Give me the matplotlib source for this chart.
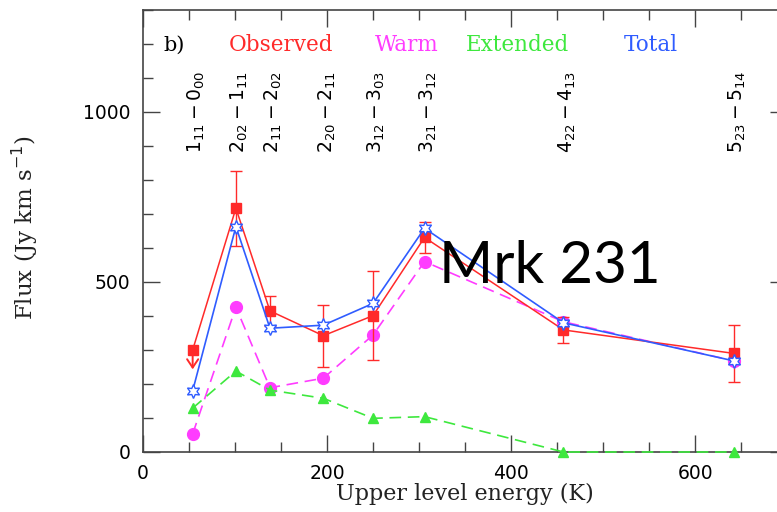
import matplotlib
matplotlib.use("Agg")
import matplotlib.pyplot as plt
from matplotlib.ticker import MultipleLocator

plt.rcParams["mathtext.fontset"] = "dejavusans"

# upper level energies (K) and H2O transitions
energy = [54, 101, 138, 196, 250, 306, 457, 642]
transitions = [r"$1_{11}-0_{00}$", r"$2_{02}-1_{11}$", r"$2_{11}-2_{02}$",
               r"$2_{20}-2_{11}$", r"$3_{12}-3_{03}$", r"$3_{21}-3_{12}$",
               r"$4_{22}-4_{13}$", r"$5_{23}-5_{14}$"]

# fluxes (Jy km/s)
observed = [300, 717, 415, 342, 401, 631, 359, 290]
observed_err = [0, 110, 44, 91, 130, 46, 38, 83]
warm = [53, 426, 189, 217, 344, 560, 383, 268]
extended = [129, 238, 182, 158, 99, 104, 0, 0]
total = [180, 663, 364, 373, 437, 658, 380, 268]

RED = "#ff2a2a"
MAGENTA = "#ff3cff"
GREEN = "#3ee83e"
BLUE = "#2f5cff"

fig = plt.figure(figsize=(7.77, 5.12), dpi=100)
ax = fig.add_axes([0.184, 0.1172, 0.829, 0.8633])
ax.set_xlim(0, 700)
ax.set_ylim(0, 1300)

ax.plot(energy, extended, ls="--", dashes=(7, 4), color=GREEN, lw=1.2,
        marker="^", ms=7, mfc=GREEN, mec=GREEN, zorder=5, clip_on=False)
ax.plot(energy, warm, ls="--", dashes=(7, 4), color=MAGENTA, lw=1.2,
        marker="o", ms=8.5, mfc=MAGENTA, mec=MAGENTA, zorder=2)

# observed: first line is an upper limit, the rest carry error bars
ax.plot(energy, observed, color=RED, lw=1.1, marker="s", ms=6.5,
        mfc=RED, mec=RED, zorder=3)
ax.errorbar(energy[1:], observed[1:], yerr=observed_err[1:], fmt="none",
            ecolor=RED, elinewidth=1.0, capsize=4.5, capthick=1.0, zorder=3)
ax.annotate("", xy=(energy[0], observed[0] - 65), xytext=(energy[0], observed[0]),
            arrowprops=dict(arrowstyle="->,head_length=0.6,head_width=0.4",
                            color=RED, lw=1.4), zorder=3)

# total: line with open six-pointed stars
ax.plot(energy, total, color=BLUE, lw=1.2, marker=(6, 1, 0), ms=10,
        mfc="white", mec=BLUE, mew=1.0, zorder=4)

# transition labels above each point
for e, t in zip(energy, transitions):
    ax.text(e + 4, 880, t, rotation=90, ha="center", va="bottom",
            fontsize=13.5, color="black")

# panel tag and legend text
ax.text(22, 1197, "b)", fontsize=15, family="DejaVu Serif", va="center")
for xpos, name, col in [(93, "Observed", RED), (252, "Warm", MAGENTA),
                        (351, "Extended", GREEN), (523, "Total", BLUE)]:
    ax.text(xpos, 1197, name, fontsize=15.5, family="DejaVu Serif",
            color=col, va="center")

ax.text(322, 497, "Mrk 231", fontsize=42, family="Lato", color="black",
        va="baseline", zorder=6)

# axes styling
ax.xaxis.set_major_locator(MultipleLocator(200))
ax.xaxis.set_minor_locator(MultipleLocator(50))
ax.yaxis.set_major_locator(MultipleLocator(500))
ax.yaxis.set_minor_locator(MultipleLocator(100))
ax.tick_params(which="both", direction="in", top=True, right=True,
               color="#444444", width=1.0)
ax.tick_params(which="major", length=12, labelsize=13.5, pad=9)
ax.tick_params(which="minor", length=7)
ax.tick_params(axis="x", which="major", pad=9)
for s in ax.spines.values():
    s.set_color("#444444")
    s.set_linewidth(1.2)

ax.set_xlabel("Upper level energy (K)", fontsize=16, family="DejaVu Serif",
              color="#222222")
ax.xaxis.set_label_coords(0.5, -0.07)
ax.set_ylabel(r"Flux (Jy km s$^{-1}$)", fontsize=16.5, family="DejaVu Serif",
              color="#222222")
ax.yaxis.set_label_coords(-0.16, 0.507)

fig.savefig("out.png", dpi=100)
